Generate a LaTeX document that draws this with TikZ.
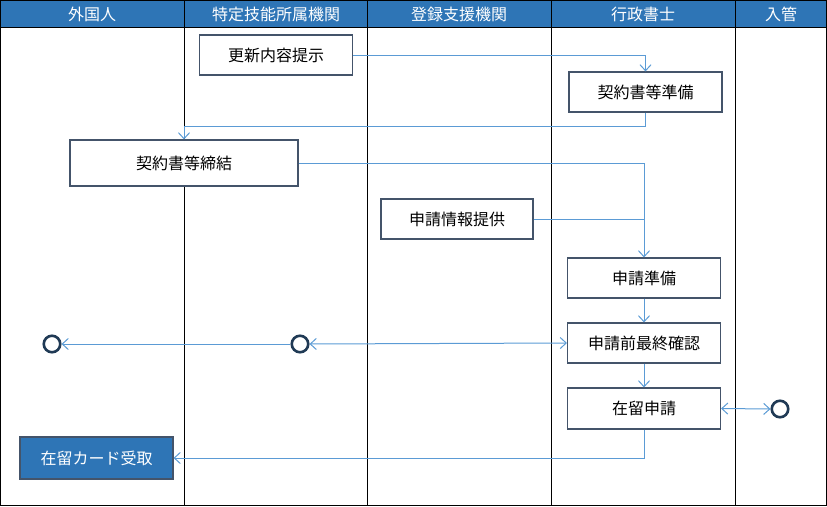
\documentclass[tikz,border=0pt]{standalone}
\usepackage{fontspec}
\newfontfamily\jp{Noto Sans CJK JP}
\usetikzlibrary{arrows.meta}
\definecolor{hdr}{HTML}{2E75B6}
\definecolor{linec}{HTML}{5B9BD5}
\definecolor{boxc}{HTML}{44546A}
\definecolor{circc}{HTML}{203A55}
\begin{document}
\begin{tikzpicture}[x=1pt,y=-1pt,
  box/.style={draw=boxc, line width=1.1pt, fill=white, minimum width=153pt, minimum height=40pt, inner sep=0pt, font=\jp\fontsize{16}{18}\selectfont},
  bluebox/.style={box, fill=hdr, draw=boxc, text=white},
  hd/.style={text=white, font=\jp\fontsize{16}{18}\selectfont, inner sep=0pt},
  endc/.style={circle, draw=circc, line width=2.6pt, fill=white, minimum size=16.5pt, inner sep=0pt},
  conn/.style={draw=linec, line width=1pt, -{Straight Barb[length=6pt,width=11pt]}},
  conn2/.style={draw=linec, line width=1pt, {Straight Barb[length=6pt,width=11pt]}-{Straight Barb[length=6pt,width=11pt]}},
  lane/.style={draw=black, line width=1pt}
]
\useasboundingbox (0,0) rectangle (827,506);
\fill[hdr] (0,0) rectangle (827,27.5);
% header texts
\node[hd] (h1) at (92,14) {外国人};
\node[hd] (h2) at (276,14) {特定技能所属機関};
\node[hd] (h3) at (459,14) {登録支援機関};
\node[hd] (h4) at (643,14) {行政書士};
\node[hd] (h5) at (781,14) {入管};
% lanes
\draw[lane] (0,27.5) -- (827,27.5);
\foreach \x in {184.5,367.5,551.5,735.5} \draw[lane] (\x,0) -- (\x,505.5);
\draw[lane] (0.5,0.5) rectangle (826.5,505.5);
% boxes
\node[box] (upd) at (276,55) {更新内容提示};
\node[box] (prep) at (645.5,92) {契約書等準備};
\node[box, minimum width=228pt, minimum height=46pt] (sign) at (184,163) {契約書等締結};
\node[box, minimum width=152pt] (info) at (457,219) {申請情報提供};
\node[box] (apprep) at (644,278) {申請準備};
\node[box] (conf) at (644,343) {申請前最終確認};
\node[box, minimum height=41pt] (app) at (644,408.5) {在留申請};
\node[bluebox, minimum height=42pt] (card) at (96.5,458) {在留カード受取};
% end circles
\node[endc] (c1) at (52,344) {};
\node[endc] (c2) at (300,344) {};
\node[endc] (c3) at (780,409) {};
% connectors
\draw[conn] (upd.east) -| (prep.north);
\draw[conn] (prep.south) -- ++(0,14) -| (sign.north);
\draw[conn] (sign.east) -| (apprep.north);
\draw[draw=linec, line width=1pt] (info.east) -- (info.east -| apprep.north);
\draw[conn] (apprep.south) -- (conf.north);
\draw[conn] (conf.south) -- (app.north);
\draw[conn2] (c2.east) -- (conf.west);
\draw[conn] (c2.west) -- (c1.east);
\draw[conn2] (app.east) -- (c3.west);
\draw[conn] (app.south) |- (card.east);
\end{tikzpicture}
\end{document}
